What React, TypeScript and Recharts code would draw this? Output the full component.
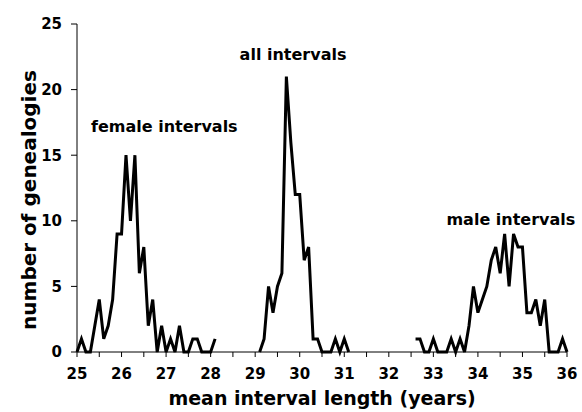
import React from 'react';
import { LineChart, Line, XAxis, YAxis, ReferenceDot } from 'recharts';

// mean interval length, one point every 0.1 year
const years = [
  25.0, 25.1, 25.2, 25.3, 25.4, 25.5, 25.6, 25.7, 25.8, 25.9,
  26.0, 26.1, 26.2, 26.3, 26.4, 26.5, 26.6, 26.7, 26.8, 26.9,
  27.0, 27.1, 27.2, 27.3, 27.4, 27.5, 27.6, 27.7, 27.8, 27.9,
  28.0, 28.1, 28.2, 28.3, 28.4, 28.5, 28.6, 28.7, 28.8, 28.9,
  29.0, 29.1, 29.2, 29.3, 29.4, 29.5, 29.6, 29.7, 29.8, 29.9,
  30.0, 30.1, 30.2, 30.3, 30.4, 30.5, 30.6, 30.7, 30.8, 30.9,
  31.0, 31.1, 31.2, 31.3, 31.4, 31.5, 31.6, 31.7, 31.8, 31.9,
  32.0, 32.1, 32.2, 32.3, 32.4, 32.5, 32.6, 32.7, 32.8, 32.9,
  33.0, 33.1, 33.2, 33.3, 33.4, 33.5, 33.6, 33.7, 33.8, 33.9,
  34.0, 34.1, 34.2, 34.3, 34.4, 34.5, 34.6, 34.7, 34.8, 34.9,
  35.0, 35.1, 35.2, 35.3, 35.4, 35.5, 35.6, 35.7, 35.8, 35.9,
  36.0,
];

// number of genealogies (null = no line drawn)
const counts: (number | null)[] = [
  0, 1, 0, 0, 2, 4, 1, 2, 4, 9,
  9, 15, 10, 15, 6, 8, 2, 4, 0, 2,
  0, 1, 0, 2, 0, 0, 1, 1, 0, 0,
  0, 1, null, null, null, null, null, null, null, null,
  null, 0, 1, 5, 3, 5, 6, 21, 16, 12,
  12, 7, 8, 1, 1, 0, 0, 0, 1, 0,
  1, 0, null, null, null, null, null, null, null, null,
  null, null, null, null, null, null, 1, 1, 0, 0,
  1, 0, 0, 0, 1, 0, 1, 0, 2, 5,
  3, 4, 5, 7, 8, 6, 9, 5, 9, 8,
  8, 3, 3, 4, 2, 4, 0, 0, 0, 1,
  0,
];

const xTicks = [25, 25.5, 26, 26.5, 27, 27.5, 28, 28.5, 29, 29.5, 30, 30.5, 31, 31.5, 32, 32.5, 33, 33.5, 34, 34.5, 35, 35.5, 36];
const yTicks = [0, 5, 10, 15, 20, 25];

const annotations = [
  { label: 'female intervals', x: 26.96, y: 17.2 },
  { label: 'all intervals', x: 29.85, y: 22.7 },
  { label: 'male intervals', x: 34.74, y: 10.1 },
];

const data = years.map((year, i) => ({ year, count: counts[i] }));

const FONT = '"DejaVu Sans", Arial, sans-serif';
const tickStyle = { fill: '#000', fontSize: 15, fontWeight: 'bold' as const, fontFamily: FONT };

export default function App() {
  return (
    <div style={{ position: 'absolute', left: 0, top: 0, background: '#fff' }}>
      <LineChart width={582} height={412} data={data} margin={{ top: 24, right: 15, bottom: 2, left: 5 }}>
        <XAxis
          dataKey="year"
          type="number"
          domain={[25, 36]}
          ticks={xTicks}
          interval={0}
          tickFormatter={(v: number) => (Number.isInteger(v) ? String(v) : '')}
          tick={tickStyle}
          tickSize={5}
          tickMargin={11}
          height={58}
          stroke="#000"
          label={{
            value: 'mean interval length (years)',
            position: 'insideBottom',
            offset: 5,
            fill: '#000',
            fontSize: 19,
            fontWeight: 'bold',
            fontFamily: FONT,
          }}
        />
        <YAxis
          domain={[0, 25]}
          ticks={yTicks}
          interval={0}
          tick={tickStyle}
          tickSize={6}
          tickMargin={9}
          width={72}
          stroke="#000"
          label={{
            value: 'number of genealogies',
            angle: -90,
            position: 'insideLeft',
            offset: 24,
            dy: 12,
            fill: '#000',
            fontSize: 20,
            fontWeight: 'bold',
            fontFamily: FONT,
            style: { textAnchor: 'middle' },
          }}
        />
        <Line
          type="linear"
          dataKey="count"
          stroke="#000"
          strokeWidth={3}
          dot={false}
          activeDot={false}
          isAnimationActive={false}
        />
        {annotations.map((a) => (
          <ReferenceDot
            key={a.label}
            x={a.x}
            y={a.y}
            r={1}
            fill="none"
            stroke="none"
            label={{
              value: a.label,
              position: 'center',
              fill: '#000',
              fontSize: 16,
              fontWeight: 'bold',
              fontFamily: FONT,
            }}
          />
        ))}
      </LineChart>
    </div>
  );
}
